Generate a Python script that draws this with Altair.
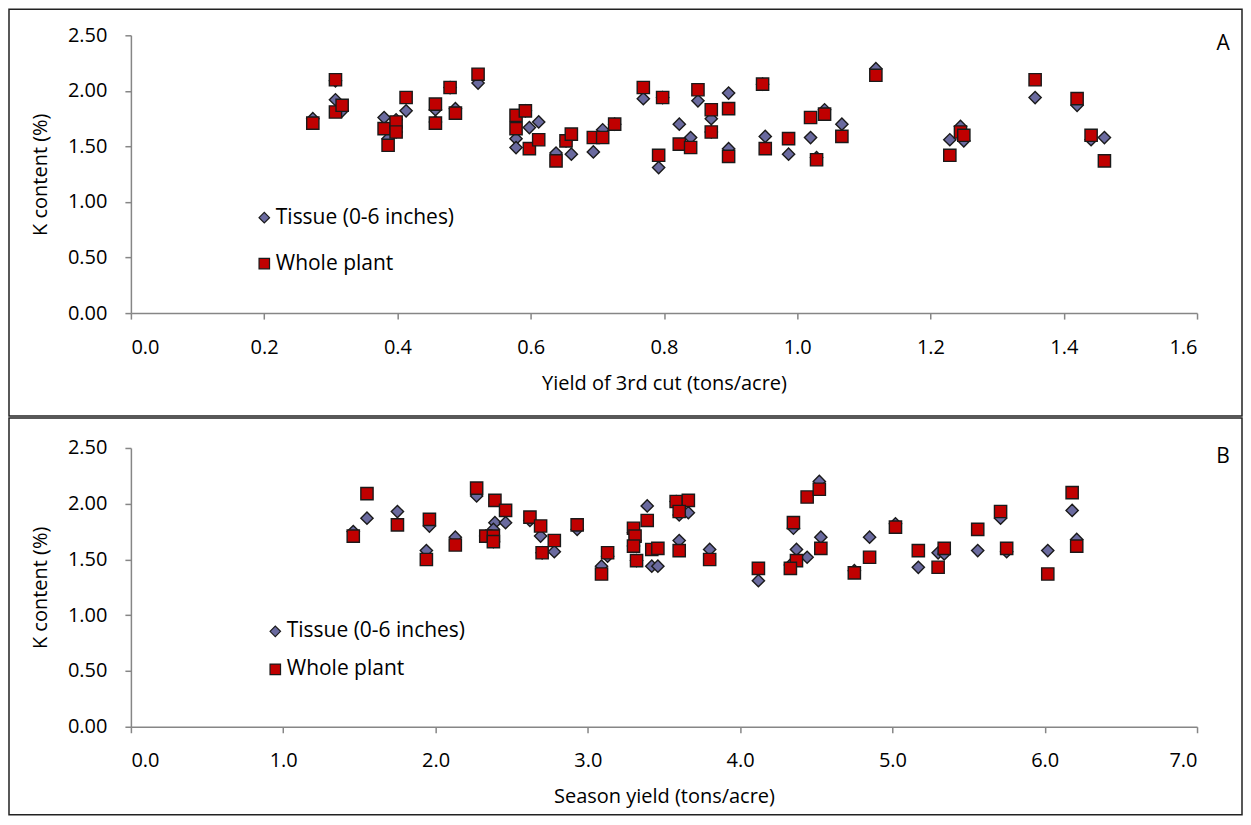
import altair as alt
import pandas as pd

# ---------------- Panel A data (yield of 3rd cut) ----------------
yield3 = [0.273, 0.307, 0.307, 0.317, 0.380, 0.386, 0.398, 0.398, 0.413, 0.457,
          0.457, 0.479, 0.487, 0.521, 0.578, 0.578, 0.592, 0.598, 0.612, 0.638,
          0.653, 0.661, 0.694, 0.708, 0.726, 0.769, 0.798, 0.792, 0.823, 0.840,
          0.851, 0.871, 0.871, 0.897, 0.897, 0.948, 0.952, 0.987, 1.020, 1.041,
          1.029, 1.067, 1.118, 1.229, 1.245, 1.250, 1.357, 1.420, 1.441, 1.461]
tissueA = [1.75, 2.09, 1.92, 1.82, 1.76, 1.57, 1.74, 1.63, 1.82, 1.83,
           1.72, 2.03, 1.84, 2.07, 1.57, 1.49, 1.82, 1.67, 1.72, 1.44,
           1.55, 1.43, 1.45, 1.65, 1.70, 1.93, 1.94, 1.31, 1.70, 1.58,
           1.91, 1.75, 1.63, 1.98, 1.48, 2.06, 1.59, 1.43, 1.58, 1.83,
           1.40, 1.70, 2.20, 1.56, 1.68, 1.55, 1.94, 1.87, 1.56, 1.58]
wholeA = [1.71, 2.10, 1.81, 1.87, 1.66, 1.51, 1.72, 1.63, 1.94, 1.88,
          1.71, 2.03, 1.80, 2.15, 1.78, 1.66, 1.82, 1.48, 1.56, 1.37,
          1.55, 1.61, 1.58, 1.58, 1.70, 2.03, 1.94, 1.42, 1.52, 1.49,
          2.01, 1.83, 1.63, 1.84, 1.41, 2.06, 1.48, 1.57, 1.76, 1.79,
          1.38, 1.59, 2.14, 1.42, 1.63, 1.60, 2.10, 1.93, 1.60, 1.37]
ticksA = [0.0, 0.2, 0.4, 0.6, 0.8, 1.0, 1.2, 1.4, 1.6]

# ---------------- Panel B data (season yield) ----------------
season = [1.46, 1.55, 1.75, 1.96, 1.94, 2.13, 2.27, 2.39, 2.46, 2.33,
          2.38, 2.38, 2.62, 2.69, 2.70, 2.78, 2.93, 3.13, 3.09, 3.30,
          3.31, 3.30, 3.39, 3.32, 3.42, 3.46, 3.58, 3.66, 3.60, 3.60,
          3.80, 4.12, 4.35, 4.37, 4.33, 4.44, 4.52, 4.53, 4.75, 4.85,
          5.02, 5.17, 5.30, 5.34, 5.56, 5.71, 5.75, 6.02, 6.18, 6.21]
tissueB = [1.75, 1.87, 1.93, 1.80, 1.58, 1.70, 2.07, 1.83, 1.83, 1.71,
           1.77, 1.66, 1.85, 1.71, 1.56, 1.57, 1.77, 1.53, 1.44, 1.74,
           1.67, 1.62, 1.98, 1.49, 1.44, 1.44, 2.02, 1.92, 1.90, 1.67,
           1.59, 1.31, 1.78, 1.59, 1.45, 1.52, 2.20, 1.70, 1.40, 1.70,
           1.82, 1.43, 1.56, 1.55, 1.58, 1.87, 1.57, 1.58, 1.94, 1.68]
wholeB = [1.71, 2.09, 1.81, 1.86, 1.50, 1.63, 2.14, 2.03, 1.94, 1.71,
          1.71, 1.66, 1.88, 1.80, 1.56, 1.67, 1.81, 1.56, 1.37, 1.78,
          1.71, 1.62, 1.85, 1.49, 1.59, 1.60, 2.02, 2.03, 1.93, 1.58,
          1.50, 1.42, 1.83, 1.49, 1.42, 2.06, 2.13, 1.60, 1.38, 1.52,
          1.79, 1.58, 1.43, 1.60, 1.77, 1.93, 1.60, 1.37, 2.10, 1.62]
ticksB = [0.0, 1.0, 2.0, 3.0, 4.0, 5.0, 6.0, 7.0]

yticks = [0.0, 0.5, 1.0, 1.5, 2.0, 2.5]

series_names = ["Tissue (0-6 inches)", "Whole plant"]
series_colors = ["#6A6A9F", "#C00000"]
series_shapes = ["diamond", "square"]

FONT = "Open Sans"
FS = 20


def long_df(xs, t, w):
    rows = [{"x": a, "k": b, "series": series_names[0], "o": 0} for a, b in zip(xs, t)]
    rows += [{"x": a, "k": b, "series": series_names[1], "o": 1} for a, b in zip(xs, w)]
    return pd.DataFrame(rows)


def panel(df, xticks, xtitle, letter, frame_y, legend_xy, legend_gap, height):
    W = 1067
    legend = alt.Legend(
        title=None, orient="none", legendX=legend_xy[0], legendY=legend_xy[1],
        labelFont=FONT, labelFontSize=21, labelColor="black", labelLimit=0,
        symbolStrokeColor="#1a1a1a", symbolStrokeWidth=1.2, symbolSize=110,
        rowPadding=legend_gap, labelOffset=1, padding=0,
    )
    pts = alt.Chart(df).mark_point(filled=True, opacity=1, stroke="#1a1a1a", strokeWidth=1.4).encode(
        x=alt.X("x:Q", scale=alt.Scale(domain=[xticks[0], xticks[-1]], nice=False),
                axis=alt.Axis(title=xtitle, format=".1f", values=xticks, labelOverlap=False)),
        y=alt.Y("k:Q", scale=alt.Scale(domain=[0, 2.5], nice=False),
                axis=alt.Axis(title="K content (%)", format=".2f", values=yticks, labelOverlap=False)),
        color=alt.Color("series:N", scale=alt.Scale(domain=series_names, range=series_colors), legend=legend),
        shape=alt.Shape("series:N", scale=alt.Scale(domain=series_names, range=series_shapes), legend=legend),
        size=alt.value(150),
        order=alt.Order("o:Q"),
    )
    one = pd.DataFrame({"a": [0]})
    frame = alt.Chart(one).mark_rect(filled=False, stroke="#222222", strokeWidth=1.5).encode(
        x=alt.value(-122), x2=alt.value(1112), y=alt.value(frame_y[0]), y2=alt.value(frame_y[1])
    )
    lab = alt.Chart(one).mark_text(font=FONT, fontSize=21, color="black", align="center", baseline="middle").encode(
        x=alt.value(1093), y=alt.value(9), text=alt.value(letter)
    )
    return alt.layer(frame, pts, lab).properties(width=W, height=height)


dfA = long_df(yield3, tissueA, wholeA)
dfB = long_df(season, tissueB, wholeB)

pA = panel(dfA, ticksA, "Yield of 3rd cut (tons/acre)", "A", (-26, 381), (123, 172), 24, 278)
pB = panel(dfB, ticksB, "Season yield (tons/acre)", "B", (-30, 367), (134, 173), 16, 279)

chart = alt.vconcat(pA, pB, spacing=0).resolve_legend(
    color="independent", shape="independent"
).resolve_scale(color="independent", shape="independent").properties(
    padding=0, background="white"
).configure_view(stroke=None).configure_axis(
    domainColor="#868686", tickColor="#868686", domainWidth=1.5, tickWidth=1.5, tickSize=6,
    labelFont=FONT, labelFontSize=FS, labelColor="black",
    titleFont=FONT, titleFontSize=FS, titleFontWeight="normal", titleColor="black",
    grid=False,
).configure_axisX(labelPadding=18, titlePadding=16).configure_axisY(labelPadding=18, titlePadding=17)

chart.save("out.html", embed_options={"renderer": "svg", "actions": False})
